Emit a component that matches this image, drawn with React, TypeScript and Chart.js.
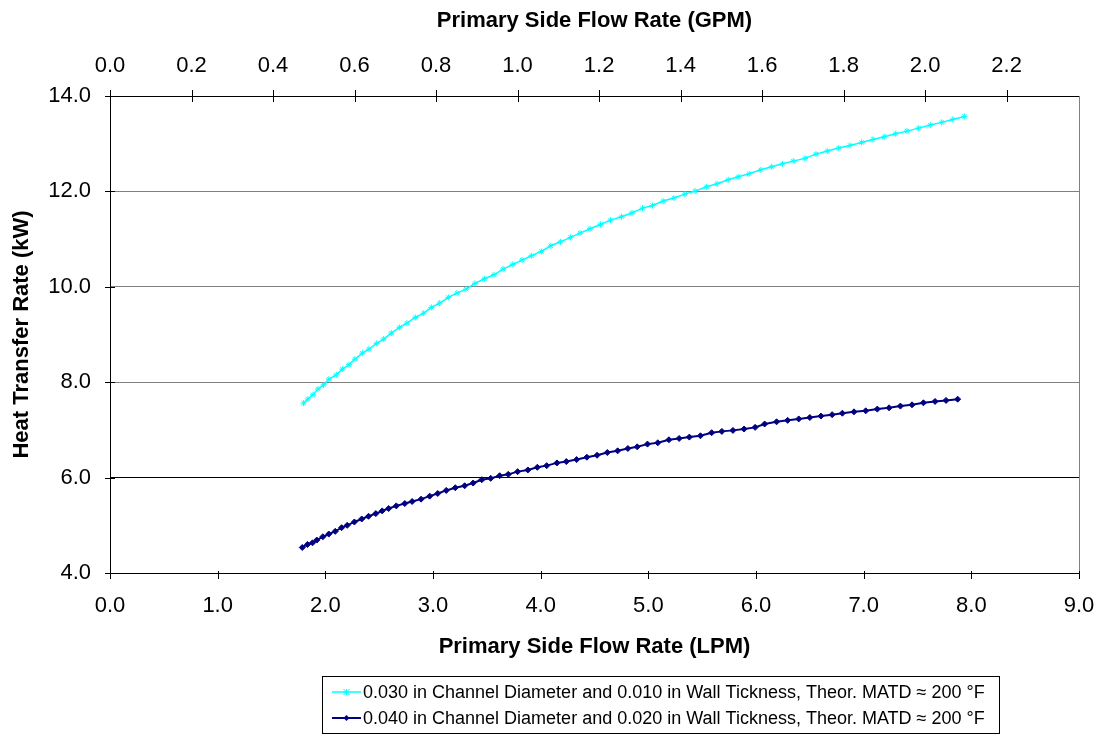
import React, { useEffect, useRef } from "react";
import { Chart, registerables } from "chart.js";

Chart.register(...registerables);

// ---------- data ----------
const LPM_PER_GPM = 3.78541;

const labelA = "0.030 in Channel Diameter and 0.010 in Wall Tickness, Theor. MATD \u2248 200 \u00B0F";
const labelB = "0.040 in Channel Diameter and 0.020 in Wall Tickness, Theor. MATD \u2248 200 \u00B0F";

const xTitleBottom = "Primary Side Flow Rate (LPM)";
const xTitleTop = "Primary Side Flow Rate (GPM)";
const yTitle = "Heat Transfer Rate (kW)";

const flowA = [
  1.798, 1.838, 1.885, 1.931, 1.984, 2.033, 2.102, 2.158, 2.219, 2.275,
  2.344, 2.405, 2.477, 2.542, 2.613, 2.69, 2.758, 2.836, 2.914, 2.985,
  3.062, 3.143, 3.223, 3.307, 3.39, 3.478, 3.567, 3.651, 3.741, 3.827,
  3.914, 4.007, 4.094, 4.184, 4.277, 4.366, 4.459, 4.556, 4.649, 4.751,
  4.849, 4.946, 5.039, 5.138, 5.237, 5.339, 5.435, 5.541, 5.639, 5.742,
  5.835, 5.937, 6.045, 6.145, 6.247, 6.346, 6.454, 6.557, 6.662, 6.768,
  6.873, 6.981, 7.086, 7.191, 7.297, 7.402, 7.511, 7.619, 7.725, 7.827,
  7.935,
];
const heatA = [
  7.562, 7.646, 7.736, 7.855, 7.945, 8.065, 8.155, 8.275, 8.365, 8.484,
  8.61, 8.694, 8.813, 8.904, 9.029, 9.149, 9.239, 9.358, 9.449, 9.568,
  9.658, 9.778, 9.868, 9.952, 10.071, 10.168, 10.252, 10.371, 10.47, 10.56,
  10.65, 10.742, 10.86, 10.943, 11.036, 11.126, 11.216, 11.308, 11.398, 11.468,
  11.551, 11.65, 11.706, 11.797, 11.86, 11.943, 12.006, 12.096, 12.159, 12.243,
  12.306, 12.369, 12.453, 12.516, 12.579, 12.635, 12.692, 12.782, 12.845, 12.908,
  12.964, 13.027, 13.09, 13.145, 13.208, 13.264, 13.327, 13.39, 13.447, 13.509,
  13.572,
];

const flowB = [
  1.786, 1.834, 1.881, 1.921, 1.977, 2.032, 2.092, 2.151, 2.203, 2.27,
  2.338, 2.401, 2.469, 2.528, 2.588, 2.659, 2.738, 2.806, 2.889, 2.969,
  3.044, 3.123, 3.207, 3.294, 3.373, 3.453, 3.536, 3.619, 3.699, 3.786,
  3.881, 3.969, 4.056, 4.151, 4.238, 4.334, 4.429, 4.524, 4.619, 4.715,
  4.81, 4.897, 4.992, 5.088, 5.191, 5.286, 5.381, 5.484, 5.588, 5.683,
  5.786, 5.889, 5.992, 6.08, 6.191, 6.294, 6.397, 6.5, 6.603, 6.707,
  6.802, 6.91, 7.019, 7.127, 7.236, 7.341, 7.449, 7.555, 7.663, 7.765,
  7.873,
];
const heatB = [
  4.535, 4.598, 4.633, 4.69, 4.76, 4.816, 4.873, 4.95, 4.999, 5.07,
  5.133, 5.189, 5.245, 5.302, 5.351, 5.407, 5.456, 5.499, 5.548, 5.611,
  5.667, 5.731, 5.787, 5.829, 5.886, 5.956, 5.984, 6.04, 6.068, 6.125,
  6.16, 6.216, 6.251, 6.308, 6.336, 6.378, 6.427, 6.469, 6.526, 6.561,
  6.61, 6.645, 6.702, 6.73, 6.793, 6.821, 6.849, 6.877, 6.941, 6.969,
  6.99, 7.018, 7.053, 7.124, 7.17, 7.2, 7.23, 7.26, 7.29, 7.32,
  7.35, 7.379, 7.4, 7.436, 7.463, 7.499, 7.526, 7.568, 7.597, 7.618,
  7.644,
];

const xMin = 0;
const xMax = 9;
const xStep = 1;
const gpmStep = 0.2;
const yMin = 4;
const yMax = 14;
const yStep = 2;

const colorA = "#00FFFF";
const colorB = "#000080";

// ---------- styling ----------
const FONT = "'Liberation Sans', Arial, Helvetica, sans-serif";
const TICK_FONT = { family: FONT, size: 22 };
const TITLE_FONT = { family: FONT, size: 22, weight: "bold" as const };

const W = 1097;
const H = 740;

function drawMarker(ctx: CanvasRenderingContext2D, style: string, x: number, y: number, r: number, color: string) {
  ctx.save();
  ctx.strokeStyle = color;
  ctx.fillStyle = color;
  ctx.lineWidth = 1;
  ctx.beginPath();
  if (style === "star") {
    ctx.moveTo(x - r, y - r); ctx.lineTo(x + r, y + r);
    ctx.moveTo(x - r, y + r); ctx.lineTo(x + r, y - r);
    ctx.moveTo(x, y - r); ctx.lineTo(x, y + r);
    ctx.moveTo(x - r, y); ctx.lineTo(x + r, y);
    ctx.stroke();
  } else {
    ctx.moveTo(x, y - r); ctx.lineTo(x + r, y); ctx.lineTo(x, y + r); ctx.lineTo(x - r, y);
    ctx.closePath();
    ctx.fill();
  }
  ctx.restore();
}

const decorPlugin = {
  id: "decor",
  afterDraw(chart: any) {
    const ctx: CanvasRenderingContext2D = chart.ctx;
    const { left, right, top, bottom } = chart.chartArea;
    ctx.save();
    ctx.lineWidth = 1;
    // right border
    ctx.strokeStyle = "#808080";
    const rx = Math.round(right) + 0.5;
    ctx.beginPath();
    ctx.moveTo(rx, Math.round(top));
    ctx.lineTo(rx, Math.round(bottom));
    ctx.stroke();

    // tick marks
    ctx.strokeStyle = "#000";
    ctx.beginPath();
    const ys = chart.scales.y;
    ys.ticks.forEach((t: any) => {
      const py = Math.round(ys.getPixelForValue(t.value)) + 0.5;
      ctx.moveTo(left - 5, py);
      ctx.lineTo(left + 5, py);
    });
    const xs = chart.scales.x;
    xs.ticks.forEach((t: any) => {
      const px = Math.round(xs.getPixelForValue(t.value)) + 0.5;
      ctx.moveTo(px, bottom - 2);
      ctx.lineTo(px, bottom + 6);
    });
    const x2 = chart.scales.x2;
    x2.ticks.forEach((t: any) => {
      const px = Math.round(x2.getPixelForValue(t.value)) + 0.5;
      ctx.moveTo(px, top - 6);
      ctx.lineTo(px, top + 6);
    });
    ctx.stroke();

    // legend box
    const bx = 322.5, by = 676.5, bw = 677, bh = 57;
    ctx.fillStyle = "#fff";
    ctx.fillRect(bx, by, bw, bh);
    ctx.strokeStyle = "#000";
    ctx.strokeRect(bx, by, bw, bh);
    ctx.font = `18px ${FONT}`;
    ctx.textBaseline = "middle";
    ctx.textAlign = "left";
    chart.data.datasets.forEach((ds: any, i: number) => {
      const cy = 692 + i * 26;
      ctx.strokeStyle = ds.borderColor;
      ctx.lineWidth = ds.borderWidth;
      ctx.beginPath();
      ctx.moveTo(332, cy);
      ctx.lineTo(361, cy);
      ctx.stroke();
      drawMarker(ctx, ds.pointStyle, 346.5, cy, 3, ds.borderColor);
      ctx.fillStyle = "#000";
      ctx.fillText(ds.label, 363, cy + 1);
    });
    ctx.restore();
  },
};

export default function App() {
  const ref = useRef<HTMLCanvasElement | null>(null);

  useEffect(() => {
    document.body.style.margin = "0";
    const canvas = ref.current;
    if (!canvas) return;

    const chart = new Chart(canvas, {
      type: "line",
      data: {
        datasets: [
          {
            label: labelA,
            data: flowA.map((x, i) => ({ x, y: heatA[i] })),
            borderColor: colorA,
            backgroundColor: colorA,
            borderWidth: 1.5,
            pointStyle: "star",
            pointRadius: 3,
            pointBorderWidth: 1,
            pointBorderColor: colorA,
            tension: 0,
            fill: false,
          },
          {
            label: labelB,
            data: flowB.map((x, i) => ({ x, y: heatB[i] })),
            borderColor: colorB,
            backgroundColor: colorB,
            borderWidth: 2,
            pointStyle: "rectRot",
            pointRadius: 3,
            pointBorderWidth: 1,
            pointBorderColor: colorB,
            pointBackgroundColor: colorB,
            tension: 0,
            fill: false,
          },
        ],
      },
      options: {
        animation: false,
        responsive: false,
        devicePixelRatio: 1,
        layout: { padding: { left: 0, right: 18, top: 0, bottom: 67 } },
        plugins: {
          legend: { display: false },
          tooltip: { enabled: false },
        },
        scales: {
          x: {
            type: "linear",
            position: "bottom",
            min: xMin,
            max: xMax,
            ticks: {
              stepSize: xStep,
              color: "#000",
              font: TICK_FONT,
              padding: 20,
              maxRotation: 0,
              callback: (v: any) => Number(v).toFixed(1),
            },
            grid: { display: true, drawOnChartArea: false, drawTicks: false },
            border: { display: true, color: "#000", width: 1 },
            title: { display: true, text: xTitleBottom, color: "#000", font: TITLE_FONT, padding: { top: 0, bottom: 13 } },
            afterFit: (s: any) => { s.height = 100; s.paddingLeft = 0; s.paddingRight = 0; },
          },
          x2: {
            type: "linear",
            position: "top",
            min: xMin / LPM_PER_GPM,
            max: xMax / LPM_PER_GPM,
            ticks: {
              stepSize: gpmStep,
              includeBounds: false,
              color: "#000",
              font: TICK_FONT,
              padding: 17,
              maxRotation: 0,
              callback: (v: any) => Number(v).toFixed(1),
            },
            grid: { display: true, drawOnChartArea: false, drawTicks: false },
            border: { display: true, color: "#000", width: 1 },
            title: { display: true, text: xTitleTop, color: "#000", font: TITLE_FONT, padding: { top: 8, bottom: 0 } },
            afterFit: (s: any) => { s.height = 96; s.paddingLeft = 0; s.paddingRight = 0; },
          },
          y: {
            type: "linear",
            position: "left",
            min: yMin,
            max: yMax,
            ticks: {
              stepSize: yStep,
              color: "#000",
              font: TICK_FONT,
              padding: 19,
              callback: (v: any) => Number(v).toFixed(1),
            },
            grid: {
              display: true,
              drawOnChartArea: true,
              drawTicks: false,
              lineWidth: 1,
              color: (c: any) => {
                const v = c.tick ? c.tick.value : null;
                if (v === yMin || v === yMax) return "rgba(0,0,0,0)";
                if (v === 6) return "#000";
                return "#808080";
              },
            },
            border: { display: true, color: "#000", width: 1 },
            title: { display: true, text: yTitle, color: "#000", font: TITLE_FONT, padding: { top: 9, bottom: 0 } },
            afterFit: (s: any) => { s.width = 110; s.paddingTop = 0; s.paddingBottom = 0; },
          },
        },
      },
      plugins: [decorPlugin],
    } as any);

    return () => chart.destroy();
  }, []);

  return (
    <div style={{ width: W, height: H, background: "#fff" }}>
      <canvas ref={ref} width={W} height={H} style={{ display: "block", width: W, height: H }} />
    </div>
  );
}
